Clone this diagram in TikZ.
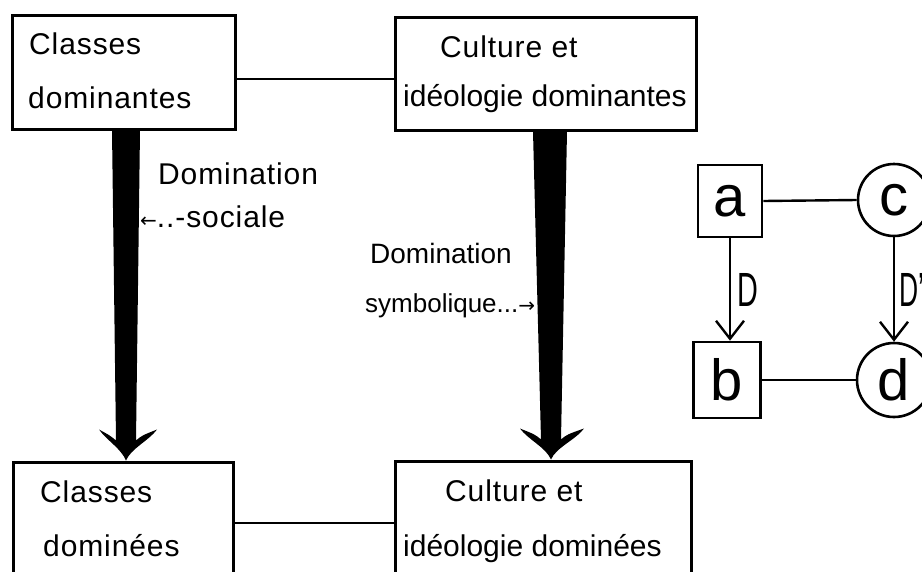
\documentclass[tikz,border=0pt]{standalone}
\usepackage{fontspec}
\setmainfont{Liberation Sans}
\newfontfamily\hand[LetterSpace=3]{Liberation Sans}
\newfontfamily\handtight{Liberation Sans}
\newfontfamily\arrowfont{DejaVu Sans}
\usetikzlibrary{calc,arrows.meta}
\tikzset{
  bigbox/.style={draw, line width=3pt, rectangle, inner sep=0pt},
  lbl/.style={font=\hand\fontsize{30}{36}\selectfont, anchor=base west, inner sep=0pt},
  lbltight/.style={font=\handtight\fontsize{30}{36}\selectfont, anchor=base west, inner sep=0pt},
  lblsmall/.style={font=\handtight\fontsize{28}{32}\selectfont, anchor=base west, inner sep=0pt},
  lblsmaller/.style={font=\handtight\fontsize{26}{30}\selectfont, anchor=base west, inner sep=0pt},
  link/.style={line width=2.4pt},
  smallbox/.style={draw, rectangle, line width=2.6pt, inner sep=0pt},
  smallcirc/.style={draw, circle, line width=2.6pt, inner sep=0pt},
  letter/.style={font=\fontsize{58}{58}\selectfont},
  dlabel/.style={font=\fontsize{48}{48}\selectfont, anchor=west, inner sep=0pt},
  thinarrow/.style={line width=2.4pt, -{Straight Barb[length=18pt,width=28pt,line width=2.4pt]}},
}
% #1 top coordinate, #2 tip coordinate, #3 top half width, #4 bottom half width, #5 left barb, #6 right barb
\newcommand\spear[6]{%
  \fill let \p1=(#1), \p2=(#2) in
    (\x1-#3,\y1) -- (\x2-#4,\y2+20pt)
    .. controls (\x2-#4-6pt,\y2+25pt) .. (\x2-#5,\y2+31pt)
    .. controls (\x2-#5+8pt,\y2+20pt) and (\x2-5pt,\y2+12pt) .. (\x2,\y2)
    .. controls (\x2+5pt,\y2+12pt) and (\x2+#6-8pt,\y2+20pt) .. (\x2+#6,\y2+31pt)
    .. controls (\x2+#4+6pt,\y2+25pt) .. (\x2+#4,\y2+20pt)
    -- (\x1+#3,\y1) -- cycle;}
\newcommand\smallarrow[1]{{\arrowfont\fontsize{20}{20}\selectfont #1}}
\begin{document}
\begin{tikzpicture}[x=1pt,y=-1pt]
\useasboundingbox (0,0) rectangle (922,571);
\fill[white] (0,0) rectangle (922,571);

% main boxes
\node[bigbox, minimum width=223pt, minimum height=114pt] (cdom) at (123.5,72) {};
\node[bigbox, minimum width=301pt, minimum height=113pt] (idom) at (545.5,73.5) {};
\node[bigbox, minimum width=220pt, minimum height=122pt] (cdomi) at (123,523) {};
\node[bigbox, minimum width=296pt, minimum height=124pt] (idomi) at (543,523) {};

% box texts
\node[lbl] (t1) at (29,54) {Classes};
\node[lbl] (t2) at (28,108) {dominantes};
\node[lbl] (t3) at (440,57) {Culture et};
\node[lbltight] (t4) at (403,106) {idéologie dominantes};
\node[lbl] (t5) at (40,502) {Classes};
\node[lbl] (t6) at (43,556) {dominées};
\node[lbl] (t7) at (445,501) {Culture et};
\node[lbltight] (t8) at (403,556) {idéologie dominées};

% horizontal links
\draw[link] ([yshift=-7pt]cdom.east) -- ([yshift=-7pt]cdom.east -| idom.west);
\draw[link] (cdomi.east) -- (idomi.west);

% thick arrows
\coordinate (s1) at (cdom.south -| 126,0);
\coordinate (e1) at (cdomi.north -| 126,0);
\coordinate (s2) at (idom.south -| 550,0);
\coordinate (e2) at (idomi.north -| 551,0);
\spear{s1}{e1}{14pt}{10pt}{27pt}{31pt}
\spear{s2}{e2}{17pt}{10pt}{31pt}{33pt}

% arrow labels
\node[lbl] (l1) at (158,184) {Domination};
\node[lbl] (l2) at (140,227) {\smallarrow{←}..-sociale};
\node[lblsmall] (l3) at (370,263) {Domination};
\node[lblsmaller] (l4) at (365,312) {symbolique...\smallarrow{→}};

% small diagram
\node[smallbox, letter, minimum width=64pt, minimum height=72pt] (a) at (730,201) {a};
\node[smallbox, letter, minimum width=67pt, minimum height=76pt] (b) at (727,380) {b};
\node[smallcirc, letter, minimum size=72pt] (c) at (894,200) {c};
\node[smallcirc, letter, minimum size=74pt] (d) at (894,380) {d};
\draw[link] (a.east) -- (c.west);
\draw[link] (b.east |- d.west) -- (d.west);
\draw[thinarrow] (a.south) -- (a.south |- b.north);
\draw[thinarrow] (c.south) -- (d.north);
\node[dlabel] (dl) at (737,290) {\scalebox{0.6}[1]{D}};
\node[dlabel] (dl2) at (899,290) {\scalebox{0.55}[1]{D'}};
\end{tikzpicture}
\end{document}
